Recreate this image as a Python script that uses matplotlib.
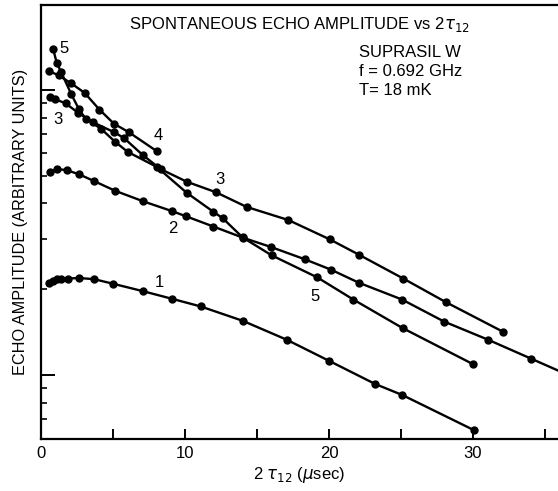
import numpy as np
import matplotlib
matplotlib.use("Agg")
import matplotlib.pyplot as plt
from matplotlib.ticker import FixedLocator, NullFormatter

plt.rcParams["font.family"] = ["Liberation Sans", "DejaVu Sans"]

# echo amplitude (arbitrary units, log scale) vs 2*tau12 in microseconds
x1 = [0.58, 0.85, 1.13, 1.41, 1.84, 2.62, 3.68, 5.02, 7.06, 9.12, 11.09, 14.0,
      17.06, 20.02, 23.2, 25.1, 30.07]
y1 = [2.11, 2.14, 2.17, 2.18, 2.18, 2.19, 2.17, 2.09, 1.97, 1.85, 1.74, 1.55,
      1.33, 1.12, 0.93, 0.85, 0.64]

x2 = [0.63, 1.13, 1.78, 2.66, 3.70, 5.16, 7.10, 9.10, 10.05, 11.97, 14.05, 16.0,
      18.3, 20.16, 22.05, 25.07, 27.99, 31.04, 34.05, 37.0]
y2 = [5.16, 5.28, 5.24, 5.06, 4.79, 4.43, 4.07, 3.76, 3.61, 3.32, 3.03, 2.81,
      2.55, 2.34, 2.11, 1.84, 1.54, 1.33, 1.14, 0.98]

x3 = [0.63, 0.97, 1.72, 2.57, 3.59, 5.07, 5.76, 7.06, 8.31, 10.12, 12.15, 14.28,
      17.17, 20.07, 22.1, 25.16, 28.13, 32.06]
y3 = [9.47, 9.30, 8.98, 8.33, 7.72, 7.12, 6.79, 5.92, 5.28, 4.77, 4.38, 3.89,
      3.50, 2.99, 2.64, 2.18, 1.80, 1.42]

x4 = [0.53, 1.23, 2.10, 3.03, 4.05, 5.07, 6.09, 8.03]
y4 = [11.69, 11.26, 10.56, 9.78, 8.55, 7.62, 7.12, 6.11]

x5 = [0.85, 1.09, 1.39, 2.10, 2.62, 3.10, 4.15, 5.14, 6.02, 8.03, 10.12, 11.97,
      12.62, 14.0, 16.02, 19.19, 21.69, 25.12, 30.02]
y5 = [13.90, 12.47, 11.59, 9.68, 8.60, 7.93, 7.33, 6.59, 6.07, 5.38, 4.36, 3.74,
      3.55, 3.04, 2.63, 2.20, 1.84, 1.46, 1.09]

curves = [(x1, y1), (x2, y2), (x3, y3), (x4, y4), (x5, y5)]

# curve number labels (x, y, text)
curve_labels = [(7.9, 2.12, "1"), (8.8, 3.28, "2"), (12.1, 4.85, "3"),
                (0.85, 7.9, "3"), (7.8, 6.95, "4"), (1.3, 14.0, "5"),
                (18.7, 1.88, "5")]

fig = plt.figure(figsize=(5.58, 4.91), dpi=100)
ax = fig.add_axes([0.0735, 0.1059, 0.9265, 0.8839])

for xs, ys in curves:
    ax.plot(xs, ys, color="black", linewidth=1.7, marker="o", markersize=5,
            markerfacecolor="black", markeredgecolor="black", clip_on=True)

for lx, ly, txt in curve_labels:
    ax.text(lx, ly, txt, fontsize=12, color="black", ha="left", va="center")

ax.set_yscale("log")
ax.set_xlim(0, 35.9)
ax.set_ylim(0.596, 19.9)

ax.xaxis.set_major_locator(FixedLocator([0, 5, 10, 15, 20, 25, 30, 35]))
ax.set_xticklabels(["0", "", "10", "", "20", "", "30", ""])
ax.tick_params(axis="x", which="major", direction="in", length=7, width=1.4,
               labelsize=12, pad=5)

ax.yaxis.set_major_locator(FixedLocator([1, 10]))
ax.yaxis.set_minor_locator(FixedLocator([0.7, 0.8, 0.9, 2, 3, 4, 5, 6, 7, 8, 9]))
ax.yaxis.set_major_formatter(NullFormatter())
ax.yaxis.set_minor_formatter(NullFormatter())
ax.tick_params(axis="y", which="major", direction="in", length=10, width=1.4)
ax.tick_params(axis="y", which="minor", direction="in", length=4.5, width=1.2)

for side in ["left", "bottom", "top"]:
    ax.spines[side].set_linewidth(1.6)
ax.spines["right"].set_visible(False)

ax.text(0.5, 0.956, r"SPONTANEOUS ECHO AMPLITUDE vs 2$\tau_{12}$",
        transform=ax.transAxes, ha="center", va="center", fontsize=12)
ax.text(0.615, 0.908, "SUPRASIL W\nf = 0.692 GHz\nT= 18 mK",
        transform=ax.transAxes, ha="left", va="top", fontsize=12,
        linespacing=1.32)

ax.set_xlabel(r"2 $\tau_{12}$ ($\mu$sec)", fontsize=12, labelpad=3)
ax.set_ylabel("ECHO AMPLITUDE (ARBITRARY UNITS)", fontsize=11.7, labelpad=6)

fig.savefig("out.png", dpi=100)
